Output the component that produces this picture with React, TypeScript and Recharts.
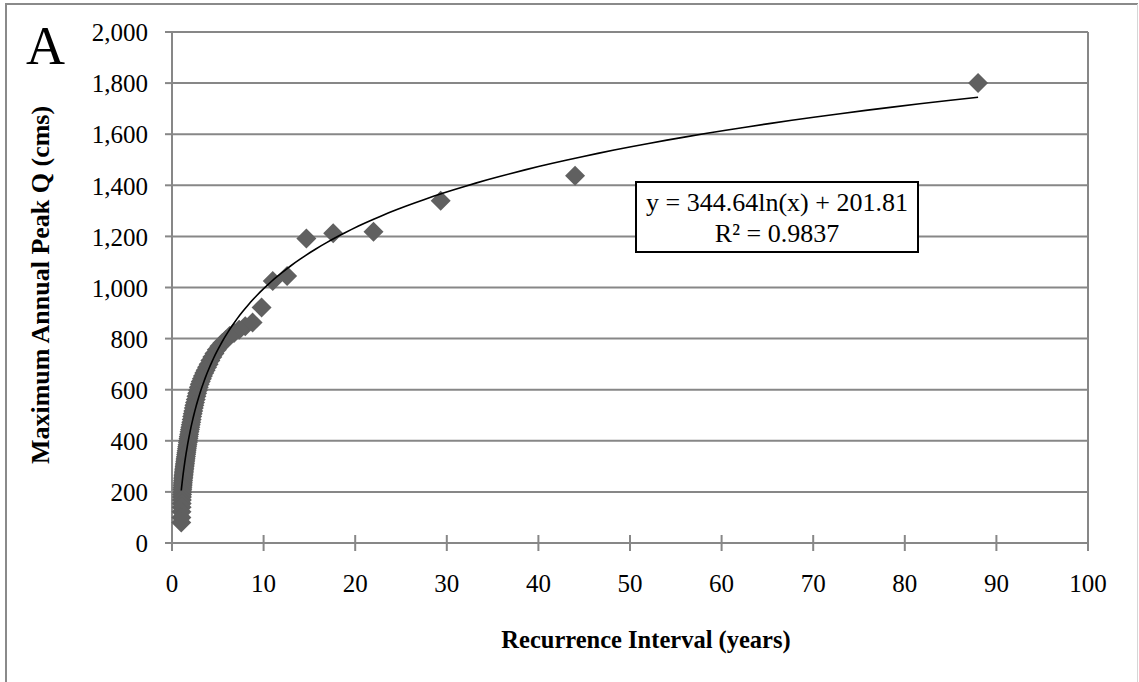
import React from "react";
import { ScatterChart, Scatter, XAxis, YAxis, CartesianGrid, ReferenceLine } from "recharts";

// Recurrence interval (years), ranked peaks, T = (n + 1) / rank
const recurrence = [
  88, 44, 29.33, 22, 17.6, 14.67, 12.57, 11, 9.78, 8.8,
  8.0, 7.33, 6.77, 6.29, 5.87, 5.5, 5.18, 4.89, 4.63, 4.4,
  4.19, 4.0, 3.83, 3.67, 3.52, 3.38, 3.26, 3.14, 3.03, 2.93,
  2.84, 2.75, 2.67, 2.59, 2.51, 2.44, 2.38, 2.32, 2.26, 2.2,
  2.15, 2.1, 2.05, 2.0, 1.96, 1.91, 1.87, 1.83, 1.8, 1.76,
  1.73, 1.69, 1.66, 1.63, 1.6, 1.57, 1.54, 1.52, 1.49, 1.47,
  1.44, 1.42, 1.4, 1.375, 1.354, 1.333, 1.313, 1.294, 1.275, 1.257,
  1.239, 1.222, 1.205, 1.189, 1.173, 1.158, 1.143, 1.128, 1.114, 1.1,
  1.086, 1.073, 1.06, 1.048, 1.035, 1.023, 1.011,
];

// Maximum annual peak discharge (cms)
const peakQ = [
  1800, 1437, 1340, 1218, 1212, 1192, 1045, 1025, 922, 863,
  848, 835, 822, 810, 795, 783, 770, 756, 742, 728,
  714, 700, 688, 676, 665, 654, 643, 632, 621, 610,
  598, 586, 574, 562, 550, 539, 528, 517, 506, 495,
  483, 473, 463, 453, 444, 435, 426, 417, 409, 400,
  393, 385, 377, 369, 361, 353, 346, 339, 332, 325,
  318, 311, 305, 299, 293, 287, 281, 275, 269, 263,
  257, 251, 245, 238, 231, 224, 216, 208, 199, 190,
  180, 168, 155, 140, 122, 100, 80,
];

const xTicks = [0, 10, 20, 30, 40, 50, 60, 70, 80, 90, 100];
const yTicks = [0, 200, 400, 600, 800, 1000, 1200, 1400, 1600, 1800, 2000];

// log trendline shown on the chart: y = 344.64 ln(x) + 201.81
const TREND_SLOPE = 344.64;
const TREND_INTERCEPT = 201.81;
const TREND_LABEL = "y = 344.64ln(x) + 201.81";
const R2_LABEL = "R\u00b2 = 0.9837";

const points = recurrence.map((x, i) => ({ x, y: peakQ[i] }));

const xMin = Math.min(...recurrence);
const xMax = Math.max(...recurrence);
const trend = Array.from({ length: 120 }, (_, i) => {
  const x = Math.exp(Math.log(xMin) + (i / 119) * (Math.log(xMax) - Math.log(xMin)));
  return { x, y: TREND_SLOPE * Math.log(x) + TREND_INTERCEPT };
});

const FONT = "'Liberation Serif', 'Times New Roman', serif";
const GRID = "#878787";
const MARKER = "#606060";

const fmt = (v: number) => v.toLocaleString("en-US");

const Diamond = (props: any) => {
  const { cx, cy } = props;
  if (cx == null || cy == null) return <g />;
  const r = 10;
  return (
    <polygon
      points={`${cx},${cy - r} ${cx + r},${cy} ${cx},${cy + r} ${cx - r},${cy}`}
      fill={MARKER}
    />
  );
};

const NoDot = () => <g />;

const YTick = ({ x, y, payload }: any) => (
  <g>
    <line x1={x - 7} y1={y} x2={x} y2={y} stroke={GRID} strokeWidth={2} />
    <text x={x - 24} y={y} dy="0.37em" textAnchor="end" fontSize={25} fontFamily={FONT} fill="#000">
      {fmt(payload.value)}
    </text>
  </g>
);

const XTick = ({ x, y, payload }: any) => (
  <g>
    <line x1={x} y1={y - 8} x2={x} y2={y + 8} stroke={GRID} strokeWidth={2} />
    <text x={x} y={y + 49} textAnchor="middle" fontSize={25} fontFamily={FONT} fill="#000">
      {payload.value}
    </text>
  </g>
);

export default function App() {
  return (
    <div style={{ position: "absolute", left: 0, top: 0, width: 1139, height: 682, background: "#fff" }}>
      <ScatterChart width={1139} height={682} margin={{ top: 32, right: 51, bottom: 109, left: 72 }}>
        <CartesianGrid vertical={false} stroke={GRID} strokeWidth={2} />
        <XAxis
          type="number"
          dataKey="x"
          domain={[0, 100]}
          ticks={xTicks}
          height={30}
          tickLine={false}
          tickSize={0}
          tickMargin={0}
          axisLine={{ stroke: GRID, strokeWidth: 2 }}
          tick={(p: any) => <XTick {...p} />}
        />
        <YAxis
          type="number"
          dataKey="y"
          domain={[0, 2000]}
          ticks={yTicks}
          width={100}
          tickLine={false}
          tickSize={0}
          tickMargin={0}
          axisLine={{ stroke: GRID, strokeWidth: 2 }}
          tick={(p: any) => <YTick {...p} />}
        />
        <ReferenceLine x={100} stroke={GRID} strokeWidth={2} />
        <Scatter data={points} shape={Diamond} isAnimationActive={false} />
        <Scatter
          data={trend}
          shape={NoDot}
          line={{ stroke: "#000", strokeWidth: 1.6 }}
          lineType="joint"
          isAnimationActive={false}
        />
      </ScatterChart>
      <svg
        width={1139}
        height={682}
        style={{ position: "absolute", left: 0, top: 0, pointerEvents: "none" }}
      >
        <path d="M6,682 L6,4 L1138,4" stroke="#8a8a8a" strokeWidth={2} fill="none" />
        <line x1={1137.5} y1={4} x2={1137.5} y2={682} stroke="#d6d6d6" strokeWidth={1} />
        <text x={26} y={64} fontSize={54} fontFamily={FONT} fill="#000">
          A
        </text>
        <text
          transform="translate(49,285) rotate(-90)"
          textAnchor="middle"
          fontSize={26}
          fontWeight="bold"
          fontFamily={FONT}
          fill="#000"
        >
          Maximum Annual Peak Q (cms)
        </text>
        <text x={646} y={648} textAnchor="middle" fontSize={24.5} fontWeight="bold" fontFamily={FONT} fill="#000">
          Recurrence Interval (years)
        </text>
        <rect x={636} y={182} width={282} height={70} fill="#fff" stroke="#000" strokeWidth={2} />
        <text x={777} y={211} textAnchor="middle" fontSize={26} fontFamily={FONT} fill="#000">
          {TREND_LABEL}
        </text>
        <text x={777} y={242} textAnchor="middle" fontSize={26} fontFamily={FONT} fill="#000">
          {R2_LABEL}
        </text>
      </svg>
    </div>
  );
}
